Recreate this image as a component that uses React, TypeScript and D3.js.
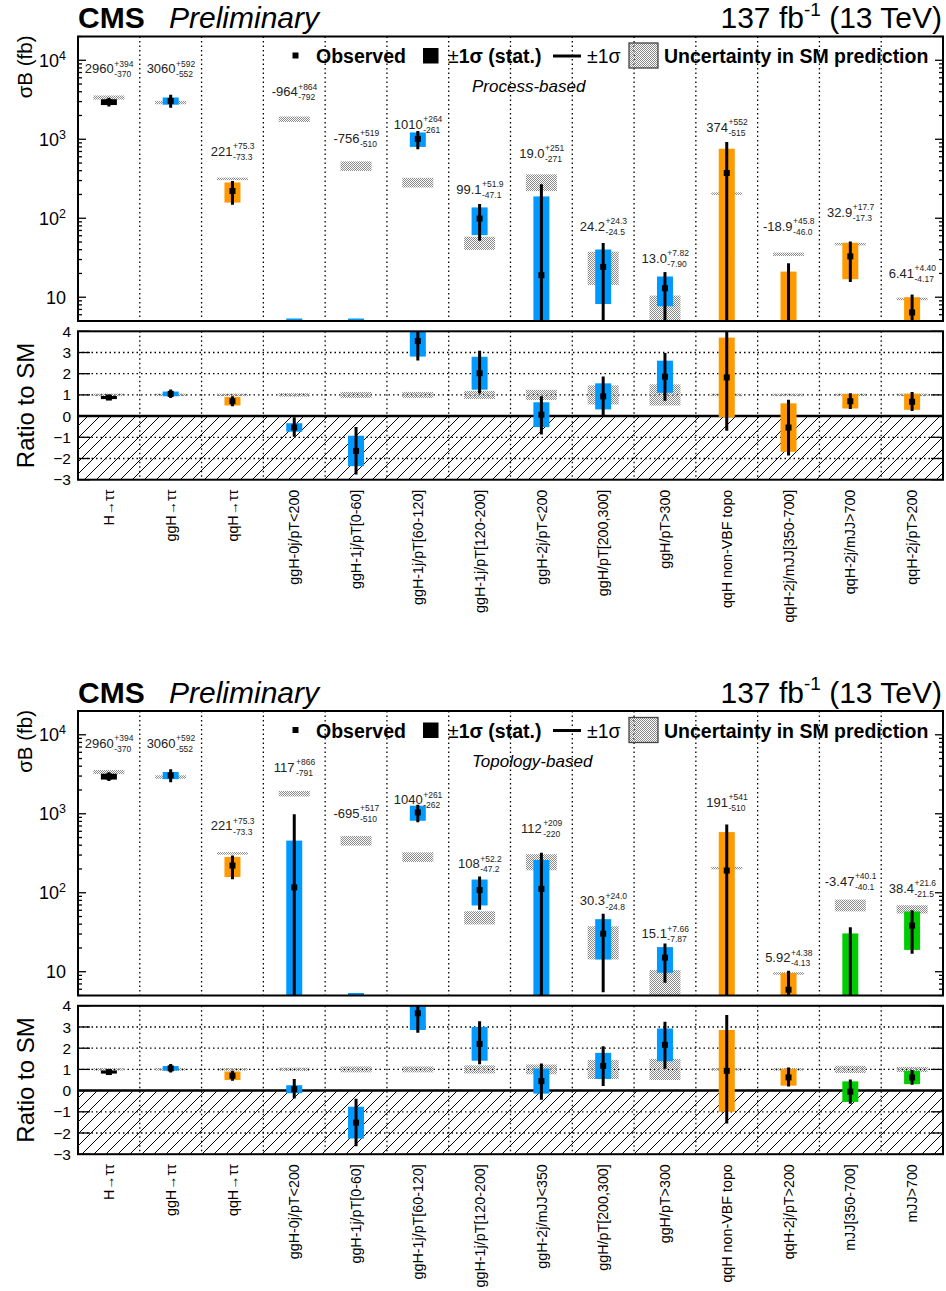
import React from "react";
import * as d3 from "d3";

// ---------------- DATA ----------------
// Process-based (top figure)
const processLabels = ["H→ττ", "ggH→ττ", "qqH→ττ", "ggH-0j/pT<200", "ggH-1j/pT[0-60]", "ggH-1j/pT[60-120]", "ggH-1j/pT[120-200]", "ggH-2j/pT<200", "ggH/pT[200,300]", "ggH/pT>300", "qqH non-VBF topo", "qqH-2j/mJJ[350-700]", "qqH-2j/mJJ>700", "qqH-2j/pT>200"];
const processGroup = ["incl", "ggH", "qqH", "ggH", "ggH", "ggH", "ggH", "ggH", "ggH", "ggH", "qqH", "qqH", "qqH", "qqH"];
const processObs = [2960, 3060, 221, -964, -756, 1010, 99.1, 19.0, 24.2, 13.0, 374, -18.9, 32.9, 6.41];
const processErrUp = [394, 592, 75.3, 864, 519, 264, 51.9, 251, 24.3, 7.82, 552, 45.8, 17.7, 4.40];
const processErrDn = [370, 552, 73.3, 792, 510, 261, 47.1, 271, 24.5, 7.90, 515, 46.0, 17.3, 4.17];
const processStat = [250, 320, 63, 360, 330, 210, 38, 170, 16, 5.3, 385, 40, 16, 3.6];
const processSM = [3380, 2920, 315, 1800, 460, 285, 49, 290, 26, 7.0, 205, 35, 47, 9.5];
const processSMUnc = [0.06, 0.05, 0.025, 0.08, 0.14, 0.14, 0.19, 0.24, 0.45, 0.5, 0.03, 0.05, 0.03, 0.03];
const processLabelAt = [7890, 7890, 705, 4045, 1030, 1548, 233, 665, 79.4, 31.3, 1418, 79.4, 119, 20.2];

// Topology-based (bottom figure)
const topoLabels = ["H→ττ", "ggH→ττ", "qqH→ττ", "ggH-0j/pT<200", "ggH-1j/pT[0-60]", "ggH-1j/pT[60-120]", "ggH-1j/pT[120-200]", "ggH-2j/mJJ<350", "ggH/pT[200,300]", "ggH/pT>300", "qqH non-VBF topo", "qqH-2j/pT>200", "mJJ[350-700]", "mJJ>700"];
const topoGroup = ["incl", "ggH", "qqH", "ggH", "ggH", "ggH", "ggH", "ggH", "ggH", "ggH", "qqH", "qqH", "vbf", "vbf"];
const topoObs = [2960, 3060, 221, 117, -695, 1040, 108, 112, 30.3, 15.1, 191, 5.92, -3.47, 38.4];
const topoErrUp = [394, 592, 75.3, 866, 517, 261, 52.2, 209, 24.0, 7.66, 541, 4.38, 40.1, 21.6];
const topoErrDn = [370, 552, 73.3, 791, 510, 262, 47.2, 220, 24.8, 7.87, 510, 4.13, 40.1, 21.5];
const topoStat = [250, 320, 63, 340, 345, 225, 39, 148, 16, 5.4, 395, 3.7, 34, 19.5];
const topoSM = [3380, 2920, 315, 1800, 460, 285, 49, 250, 26, 7.0, 205, 9.5, 70, 62];
const topoSMUnc = [0.06, 0.05, 0.025, 0.08, 0.14, 0.14, 0.19, 0.23, 0.45, 0.5, 0.03, 0.03, 0.17, 0.12];
const topoLabelAt = [7850, 7850, 702, 3908, 1023, 1524, 234, 661, 78.9, 30.6, 1410, 15.2, 140, 115];

const yDomain = [5, 20000];
const ratioDomain = [-3, 4];
const ratioTicks = [-3, -2, -1, 0, 1, 2, 3, 4];
const ratioGrid = [-2, -1, 1, 2, 3];

// ---------------- STYLE ----------------
const COLORS: Record<string, string> = { incl: "#000000", ggH: "#0099ff", qqH: "#ff9900", vbf: "#00cc00" };
const FONT = "'Liberation Sans', Arial, Helvetica, sans-serif";
const W = 946, H = 1291;
const LEFT = 78, RIGHT = 943;
const SHIFT = 674.5;

const charW: Record<string, number> = { ".": 0.278, "-": 0.333, "+": 0.584 };
const tw = (s: string, size: number) => d3.sum(Array.from(s), (c) => charW[c] ?? 0.556) * size;
const fmt3 = d3.format(".3r");
const f = (v: number) => fmt3(Math.abs(v));

type PanelProps = {
  off: number; pid: string; subtitle: string;
  labels: string[]; group: string[]; obs: number[]; errUp: number[]; errDn: number[];
  stat: number[]; sm: number[]; smUnc: number[]; labelAt: number[];
};

function Panel(p: PanelProps) {
  const { off, pid } = p;
  const uTop = 36.5 + off, uBot = 321 + off, rTop = 331.3 + off, rBot = 479.7 + off;
  const n = p.labels.length;
  const x = d3.scaleBand<number>().domain(d3.range(n)).range([LEFT, RIGHT]).padding(0);
  const bw = x.bandwidth();
  const cx = (i: number) => (x(i) as number) + bw / 2;
  const y = d3.scaleLog().domain(yDomain).range([uBot, uTop]);
  const yv = (v: number) => (v <= yDomain[0] ? uBot : Math.max(uTop, y(v)));
  const r = d3.scaleLinear().domain(ratioDomain).range([rBot, rTop]).clamp(true);
  const logTicks = y.ticks().filter((t) => t >= yDomain[0] && t <= yDomain[1]);
  const isMajor = (t: number) => Math.abs(Math.log10(t) - Math.round(Math.log10(t))) < 1e-9;
  const statW = 16, smW = 31, mk = 6;
  const dot = "1.5 3";

  const legY = 63 + off;

  return (
    <g>
      <defs>
        <clipPath id={`cu${pid}`}><rect x={LEFT} y={uTop} width={RIGHT - LEFT} height={uBot - uTop} /></clipPath>
        <clipPath id={`cr${pid}`}><rect x={LEFT} y={rTop} width={RIGHT - LEFT} height={rBot - rTop} /></clipPath>
      </defs>

      {/* header */}
      <text x={78} y={28.3 + off} fontSize={30} fontWeight="bold">CMS</text>
      <text x={169} y={28.3 + off} fontSize={30} fontStyle="italic">Preliminary</text>
      <text x={942} y={28.3 + off} fontSize={30} textAnchor="end">
        137 fb<tspan fontSize={19} dy={-12.5}>-1</tspan><tspan dy={12.5}> (13 TeV)</tspan>
      </text>

      {/* ---------- upper panel ---------- */}
      {d3.range(1, n).map((i) => (
        <line key={`vg${i}`} x1={x(i)} x2={x(i)} y1={uTop} y2={uBot} stroke="#000" strokeWidth={1.3} strokeDasharray={dot} />
      ))}
      <g clipPath={`url(#cu${pid})`}>
        {p.sm.map((s, i) => {
          const hi = s * (1 + p.smUnc[i]), lo = s * (1 - p.smUnc[i]);
          const y1 = yv(hi), y2 = yv(lo);
          const h = Math.max(y2 - y1, 2.5);
          return <rect key={`smu${i}`} x={cx(i) - smW / 2} y={(y1 + y2) / 2 - h / 2} width={smW} height={h} fill="url(#smHatch)" />;
        })}
        {p.obs.map((o, i) => {
          const hi = o + p.stat[i], lo = o - p.stat[i];
          const c = COLORS[p.group[i]];
          if (hi <= yDomain[0]) return <rect key={`stu${i}`} x={cx(i) - statW / 2} y={uBot - 2.5} width={statW} height={2.5} fill={c} />;
          const y1 = yv(hi), y2 = yv(lo);
          return <rect key={`stu${i}`} x={cx(i) - statW / 2} y={y1} width={statW} height={Math.max(y2 - y1, 2)} fill={c} />;
        })}
        {p.obs.map((o, i) => {
          const hi = o + p.errUp[i], lo = o - p.errDn[i];
          if (hi <= yDomain[0]) return null;
          return <line key={`eu${i}`} x1={cx(i)} x2={cx(i)} y1={yv(hi)} y2={yv(lo)} stroke="#000" strokeWidth={3} />;
        })}
        {p.obs.map((o, i) => o > yDomain[0] ? (
          <rect key={`mu${i}`} x={cx(i) - mk / 2} y={y(o) - mk / 2} width={mk} height={mk} fill="#000" />
        ) : null)}
      </g>

      {/* value annotations */}
      {p.obs.map((o, i) => {
        const main = (o < 0 ? "-" : "") + f(o);
        const up = "+" + f(p.errUp[i]);
        const dn = "-" + f(p.errDn[i]);
        const w1 = tw(main, 13);
        const w2 = Math.max(tw(up, 8.5), tw(dn, 8.5));
        const x0 = cx(i) - (w1 + w2) / 2;
        const yb = y(p.labelAt[i]) + 4.6;
        return (
          <g key={`an${i}`} fill="#222">
            <text x={x0} y={yb} fontSize={13}>{main}</text>
            <text x={x0 + w1 + 0.5} y={yb - 6.4} fontSize={8.5}>{up}</text>
            <text x={x0 + w1 + 0.5} y={yb + 4.3} fontSize={8.5}>{dn}</text>
          </g>
        );
      })}

      {/* legend */}
      <rect x={292.5} y={52.5 + off} width={6} height={6} fill="#000" />
      <text x={316} y={legY} fontSize={19.5} fontWeight="bold">Observed</text>
      <rect x={423} y={48 + off} width={15.5} height={15.5} fill="#000" />
      <text x={448} y={legY} fontSize={19.5}>±<tspan fontWeight="bold">1σ (stat.)</tspan></text>
      <line x1={553} x2={581} y1={56 + off} y2={56 + off} stroke="#000" strokeWidth={3} />
      <text x={587} y={legY} fontSize={19.5}>±1σ</text>
      <rect x={629} y={43 + off} width={29} height={25} fill="url(#smHatch)" stroke="#444" strokeWidth={1.3} />
      <text x={664} y={legY} fontSize={19.5} fontWeight="bold">Uncertainty in SM prediction</text>
      <text x={472} y={92 + off} fontSize={17} fontStyle="italic">{p.subtitle}</text>

      {/* upper axes */}
      {logTicks.map((t, k) => {
        const len = isMajor(t) ? 8 : 4;
        return (
          <g key={`lt${k}`}>
            <line x1={LEFT} x2={LEFT + len} y1={y(t)} y2={y(t)} stroke="#000" strokeWidth={1.3} />
            <line x1={RIGHT - len} x2={RIGHT} y1={y(t)} y2={y(t)} stroke="#000" strokeWidth={1.3} />
          </g>
        );
      })}
      {logTicks.filter(isMajor).map((t, k) => {
        const e = Math.round(Math.log10(t));
        return (
          <text key={`ll${k}`} x={66} y={y(t) + 6.5} fontSize={18} textAnchor="end">
            10{e > 1 ? <tspan fontSize={12.5} dy={-7}>{e}</tspan> : null}
          </text>
        );
      })}
      <rect x={LEFT} y={uTop} width={RIGHT - LEFT} height={uBot - uTop} fill="none" stroke="#000" strokeWidth={2} />
      <text transform={`translate(32,${uTop - 1}) rotate(-90)`} fontSize={20.5} textAnchor="end">σB (fb)</text>

      {/* ---------- ratio panel ---------- */}
      <rect x={LEFT} y={r(0)} width={RIGHT - LEFT} height={rBot - r(0)} fill="url(#diag)" />
      {d3.range(1, n).map((i) => (
        <line key={`rvg${i}`} x1={x(i)} x2={x(i)} y1={rTop} y2={rBot} stroke="#000" strokeWidth={1.3} strokeDasharray={dot} />
      ))}
      {ratioGrid.map((g) => (
        <line key={`rhg${g}`} x1={LEFT} x2={RIGHT} y1={r(g)} y2={r(g)} stroke="#000" strokeWidth={1.3} strokeDasharray={dot} />
      ))}
      <line x1={LEFT} x2={RIGHT} y1={r(0)} y2={r(0)} stroke="#000" strokeWidth={2.5} />
      <g clipPath={`url(#cr${pid})`}>
        {p.smUnc.map((u, i) => {
          const y1 = r(1 + u), y2 = r(1 - u);
          const h = Math.max(y2 - y1, 2.5);
          return <rect key={`smr${i}`} x={cx(i) - smW / 2} y={(y1 + y2) / 2 - h / 2} width={smW} height={h} fill="url(#smHatch)" />;
        })}
        {p.obs.map((o, i) => {
          const y1 = r((o + p.stat[i]) / p.sm[i]), y2 = r((o - p.stat[i]) / p.sm[i]);
          return <rect key={`str${i}`} x={cx(i) - statW / 2} y={y1} width={statW} height={Math.max(y2 - y1, 2)} fill={COLORS[p.group[i]]} />;
        })}
        {p.obs.map((o, i) => (
          <line key={`er${i}`} x1={cx(i)} x2={cx(i)} y1={r((o + p.errUp[i]) / p.sm[i])} y2={r((o - p.errDn[i]) / p.sm[i])} stroke="#000" strokeWidth={3} />
        ))}
        {p.obs.map((o, i) => (
          <rect key={`mr${i}`} x={cx(i) - mk / 2} y={r(o / p.sm[i]) - mk / 2} width={mk} height={mk} fill="#000" />
        ))}
      </g>
      {ratioTicks.map((t) => (
        <g key={`rt${t}`}>
          <line x1={LEFT} x2={LEFT + 12} y1={r(t)} y2={r(t)} stroke="#000" strokeWidth={1.3} />
          <line x1={RIGHT - 12} x2={RIGHT} y1={r(t)} y2={r(t)} stroke="#000" strokeWidth={1.3} />
          <text x={71} y={r(t) + 5.5} fontSize={15.5} textAnchor="end">{d3.format("")(t)}</text>
        </g>
      ))}
      <rect x={LEFT} y={rTop} width={RIGHT - LEFT} height={rBot - rTop} fill="none" stroke="#000" strokeWidth={2} />
      <text transform={`translate(34,${(rTop + rBot) / 2}) rotate(-90)`} fontSize={24} textAnchor="middle">Ratio to SM</text>

      {/* category labels */}
      {p.labels.map((l, i) => (
        <text key={`xl${i}`} transform={`translate(${cx(i)},${rBot + 10}) rotate(-90)`} dy="0.36em" fontSize={14.3} textAnchor="end">{l}</text>
      ))}
    </g>
  );
}

export default function App() {
  return (
    <svg width={W} height={H} viewBox={`0 0 ${W} ${H}`} style={{ position: "absolute", left: 0, top: 0, background: "#fff" }} fontFamily={FONT}>
      <defs>
        <pattern id="smHatch" width={2} height={2} patternUnits="userSpaceOnUse">
          <rect x={0} y={0} width={1} height={1} fill="#8a8a8a" />
          <rect x={1} y={1} width={1} height={1} fill="#8a8a8a" />
        </pattern>
        <pattern id="diag" width={12} height={12} patternUnits="userSpaceOnUse">
          <path d="M0,12 L12,0 M-3,3 L3,-3 M9,15 L15,9" stroke="#000" strokeWidth={1} />
        </pattern>
      </defs>
      <rect x={0} y={0} width={W} height={H} fill="#fff" />
      <Panel off={0} pid="p" subtitle="Process-based" labels={processLabels} group={processGroup} obs={processObs}
        errUp={processErrUp} errDn={processErrDn} stat={processStat} sm={processSM} smUnc={processSMUnc} labelAt={processLabelAt} />
      <Panel off={SHIFT} pid="t" subtitle="Topology-based" labels={topoLabels} group={topoGroup} obs={topoObs}
        errUp={topoErrUp} errDn={topoErrDn} stat={topoStat} sm={topoSM} smUnc={topoSMUnc} labelAt={topoLabelAt} />
    </svg>
  );
}
